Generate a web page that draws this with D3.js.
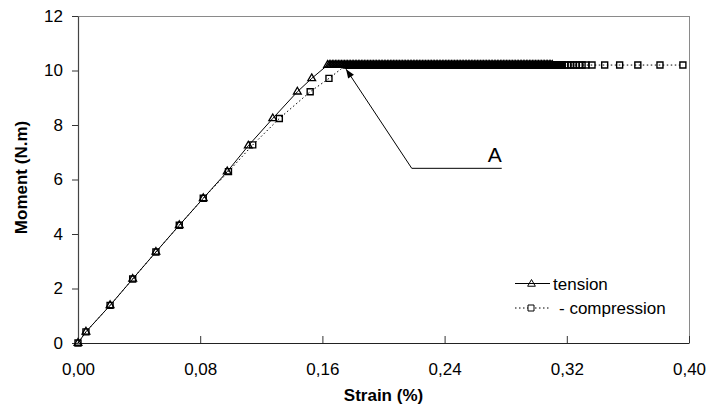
<!DOCTYPE html>
<html><head><meta charset="utf-8">
<script src="https://cdn.jsdelivr.net/npm/d3@7/dist/d3.min.js"></script>
<style>
body{margin:0;background:#fff}
svg{display:block}
text{font-family:"Liberation Sans",Arial,Helvetica,sans-serif;fill:#000}
</style>
</head><body>
<svg id="chart" width="708" height="410"></svg>
<script>
// ---- data ----
const xTicks = [0, 0.08, 0.16, 0.24, 0.32, 0.40];
const yTicks = [0, 2, 4, 6, 8, 10, 12];

const tensionStrain = [0, 0.0052, 0.021, 0.0358, 0.051, 0.0663, 0.082, 0.0977, 0.1115, 0.1275, 0.1436, 0.153, 0.1634];
const tensionMoment = [0, 0.41, 1.38, 2.35, 3.34, 4.32, 5.31, 6.29, 7.24, 8.24, 9.22, 9.71, 10.2];
const tensionPlateauStrain = [
0.1645,0.1655,0.1665,0.1675,0.1685,0.1695,
0.1705,0.1715,0.1725,0.1735,0.1745,0.1755,0.1765,0.1775,0.1785,0.1795,
0.1805,0.1815,0.1825,0.1835,0.1845,0.1855,0.1865,0.1875,0.1885,0.1895,
0.1905,0.1915,0.1925,0.1935,0.1945,0.1955,0.1965,0.1975,0.1985,0.1995,
0.2005,0.2015,0.2025,0.2035,0.2045,0.2055,0.2065,0.2075,0.2085,0.2095,
0.2105,0.2115,0.2125,0.2135,0.2145,0.2155,0.2165,0.2175,0.2185,0.2195,
0.2205,0.2215,0.2225,0.2235,0.2245,0.2255,0.2265,0.2275,0.2285,0.2295,
0.2305,0.2315,0.2325,0.2335,0.2345,0.2355,0.2365,0.2375,0.2385,0.2395,
0.2405,0.2415,0.2425,0.2435,0.2445,0.2455,0.2465,0.2475,0.2485,0.2495,
0.2505,0.2515,0.2525,0.2535,0.2545,0.2555,0.2565,0.2575,0.2585,0.2595,
0.2605,0.2615,0.2625,0.2635,0.2645,0.2655,0.2665,0.2675,0.2685,0.2695,
0.2705,0.2715,0.2725,0.2735,0.2745,0.2755,0.2765,0.2775,0.2785,0.2795,
0.2805,0.2815,0.2825,0.2835,0.2845,0.2855,0.2865,0.2875,0.2885,0.2895,
0.2905,0.2915,0.2925,0.2935,0.2945,0.2955,0.2965,0.2975,0.2985,0.2995,
0.3005,0.3015,0.3025,0.3035,0.3045,0.3055,0.3065,0.3075,0.3085,0.3095,0.3105];
const tensionPlateauMoment = 10.2;

const compressionStrain = [0, 0.0052, 0.021, 0.0358, 0.051, 0.0663, 0.082, 0.0985, 0.1144, 0.1318, 0.152, 0.1643, 0.1755];
const compressionMoment = [0, 0.41, 1.38, 2.35, 3.34, 4.32, 5.31, 6.29, 7.27, 8.24, 9.22, 9.71, 10.2];
const compressionPlateauStrain = [
0.1770,0.1775,0.1780,0.1785,0.1790,0.1795,
0.1800,0.1805,0.1810,0.1815,0.1820,0.1825,0.1830,0.1835,0.1840,0.1845,0.1850,0.1855,0.1860,0.1865,0.1870,0.1875,0.1880,0.1885,0.1890,0.1895,
0.1900,0.1905,0.1910,0.1915,0.1920,0.1925,0.1930,0.1935,0.1940,0.1945,0.1950,0.1955,0.1960,0.1965,0.1970,0.1975,0.1980,0.1985,0.1990,0.1995,
0.2000,0.2005,0.2010,0.2015,0.2020,0.2025,0.2030,0.2035,0.2040,0.2045,0.2050,0.2055,0.2060,0.2065,0.2070,0.2075,0.2080,0.2085,0.2090,0.2095,
0.2100,0.2105,0.2110,0.2115,0.2120,0.2125,0.2130,0.2135,0.2140,0.2145,0.2150,0.2155,0.2160,0.2165,0.2170,0.2175,0.2180,0.2185,0.2190,0.2195,
0.2200,0.2205,0.2210,0.2215,0.2220,0.2225,0.2230,0.2235,0.2240,0.2245,0.2250,0.2255,0.2260,0.2265,0.2270,0.2275,0.2280,0.2285,0.2290,0.2295,
0.2300,0.2305,0.2310,0.2315,0.2320,0.2325,0.2330,0.2335,0.2340,0.2345,0.2350,0.2355,0.2360,0.2365,0.2370,0.2375,0.2380,0.2385,0.2390,0.2395,
0.2400,0.2405,0.2410,0.2415,0.2420,0.2425,0.2430,0.2435,0.2440,0.2445,0.2450,0.2455,0.2460,0.2465,0.2470,0.2475,0.2480,0.2485,0.2490,0.2495,
0.2500,0.2505,0.2510,0.2515,0.2520,0.2525,0.2530,0.2535,0.2540,0.2545,0.2550,0.2555,0.2560,0.2565,0.2570,0.2575,0.2580,0.2585,0.2590,0.2595,
0.2600,0.2605,0.2610,0.2615,0.2620,0.2625,0.2630,0.2635,0.2640,0.2645,0.2650,0.2655,0.2660,0.2665,0.2670,0.2675,0.2680,0.2685,0.2690,0.2695,
0.2700,0.2705,0.2710,0.2715,0.2720,0.2725,0.2730,0.2735,0.2740,0.2745,0.2750,0.2755,0.2760,0.2765,0.2770,0.2775,0.2780,0.2785,0.2790,0.2795,
0.2800,0.2805,0.2810,0.2815,0.2820,0.2825,0.2830,0.2835,0.2840,0.2845,0.2850,0.2855,0.2860,0.2865,0.2870,0.2875,0.2880,0.2885,0.2890,0.2895,
0.2900,0.2905,0.2910,0.2915,0.2920,0.2925,0.2930,0.2935,0.2940,0.2945,0.2950,0.2955,0.2960,0.2965,0.2970,0.2975,0.2980,0.2985,0.2990,0.2995,
0.3000,0.3005,0.3010,0.3015,0.3020,0.3025,0.3030,0.3035,0.3040,0.3045,0.3050,0.3055,0.3060,0.3065,0.3070,0.3075,0.3080,0.3085,0.3090,0.3095,
0.3100,0.3105,0.3110,0.3115,0.3120,0.3125,0.3130,0.3135,0.3140,0.3145,0.3150,0.3155,0.3160,0.3165,0.3170,
0.3189,0.3208,0.3226,0.3244,0.3262,0.3281,0.3300,0.3325,0.3365,0.3448,0.3546,0.3665,0.3810,0.3960];
const compressionPlateauMoment = 10.2;

const seriesNames = ["tension", "- compression"];
const annotationLabel = "A";
const annotationTip = [0.1755, 10.05];
const annotationElbow = [0.2185, 6.41];
const annotationEnd = [0.2774, 6.41];

// ---- build series ----
const tension = tensionStrain.map((s,i)=>[s, tensionMoment[i]])
  .concat(tensionPlateauStrain.map(s=>[s, tensionPlateauMoment]));
const compression = compressionStrain.map((s,i)=>[s, compressionMoment[i]])
  .concat(compressionPlateauStrain.map(s=>[s, compressionPlateauMoment]));

const svg = d3.select("#chart");
const L = 78, R = 689, T = 16, B = 343;
const x = d3.scaleLinear().domain([0, 0.4]).range([L, R]);
const y = d3.scaleLinear().domain([0, 12]).range([B, T]);
const fmt = v => d3.format(".2f")(v).replace(".", ",");

// frame (top + right)
svg.append("line").attr("x1",L).attr("x2",R).attr("y1",T+0.5).attr("y2",T+0.5).attr("stroke","#8a8a8a").attr("stroke-width",1);
svg.append("line").attr("x1",R+0.5).attr("x2",R+0.5).attr("y1",T).attr("y2",B).attr("stroke","#8a8a8a").attr("stroke-width",1);

// x axis
const gx = svg.append("g").attr("transform",`translate(0,${B})`)
  .call(d3.axisBottom(x).tickValues(xTicks).tickFormat(fmt).tickSizeInner(-7).tickSizeOuter(0).tickPadding(20));
gx.select(".domain").attr("stroke","#222").attr("stroke-width",1.2);
gx.selectAll(".tick line").attr("stroke","#333");
gx.selectAll("text").attr("font-size",17).attr("font-family","Liberation Sans, Arial, sans-serif").attr("fill","#111");

// y axis
const gy = svg.append("g").attr("transform",`translate(${L},0)`)
  .call(d3.axisLeft(y).tickValues(yTicks).tickFormat(d3.format("d")).tickSizeInner(6).tickSizeOuter(0).tickPadding(9));
gy.select(".domain").attr("stroke","#444").attr("stroke-width",1.2);
gy.selectAll(".tick line").attr("stroke","#333");
gy.selectAll("text").attr("font-size",17).attr("font-family","Liberation Sans, Arial, sans-serif").attr("fill","#111");

// titles
svg.append("text").attr("x",(L+R)/2).attr("y",401).attr("text-anchor","middle")
  .attr("font-size",17).attr("font-weight","bold").text("Strain (%)");
svg.append("text").attr("transform",`translate(27,${(T+B)/2-2}) rotate(-90)`).attr("text-anchor","middle")
  .attr("font-size",17).attr("font-weight","bold").text("Moment (N.m)");

// lines
const line = d3.line().x(d=>x(d[0])).y(d=>y(d[1]));
svg.append("path").datum(compression).attr("d",line).attr("fill","none").attr("stroke","#000").attr("stroke-width",1).attr("stroke-dasharray","1.5,2.5");
svg.append("path").datum(tension).attr("d",line).attr("fill","none").attr("stroke","#000").attr("stroke-width",1);

// markers
const tri = d3.symbol().type(d3.symbolTriangle).size(26);
const sq = d3.symbol().type(d3.symbolSquare).size(36);
svg.append("g").selectAll("path").data(compression).join("path")
  .attr("d",sq).attr("transform",d=>`translate(${x(d[0])},${y(d[1])})`)
  .attr("fill","none").attr("stroke","#000").attr("stroke-width",1.4);
svg.append("g").selectAll("path").data(tension).join("path")
  .attr("d",tri).attr("transform",d=>`translate(${x(d[0])},${y(d[1])})`)
  .attr("fill","none").attr("stroke","#000").attr("stroke-width",1.3);

// annotation A
const tip = [x(annotationTip[0]), y(annotationTip[1])];
const elb = [x(annotationElbow[0]), y(annotationElbow[1])];
const end = [x(annotationEnd[0]), y(annotationEnd[1])];
svg.append("path").attr("d",`M${end[0]},${end[1]}L${elb[0]},${elb[1]}L${tip[0]},${tip[1]}`)
  .attr("fill","none").attr("stroke","#000").attr("stroke-width",1);
const ang = Math.atan2(tip[1]-elb[1], tip[0]-elb[0]);
const ah = 9, aw = 3.5;
const bx = tip[0]-ah*Math.cos(ang), by = tip[1]-ah*Math.sin(ang);
svg.append("path").attr("d",`M${tip[0]},${tip[1]}L${bx+aw*Math.sin(ang)},${by-aw*Math.cos(ang)}L${bx-aw*Math.sin(ang)},${by+aw*Math.cos(ang)}Z`)
  .attr("fill","#000");
svg.append("text").attr("x",end[0]-7).attr("y",end[1]-6).attr("text-anchor","middle")
  .attr("font-size",21).text(annotationLabel);

// legend
const lg = svg.append("g");
lg.append("line").attr("x1",515).attr("x2",550).attr("y1",283.5).attr("y2",283.5).attr("stroke","#000").attr("stroke-width",1);
lg.append("path").attr("d",tri).attr("transform","translate(531.5,284)").attr("fill","none").attr("stroke","#000").attr("stroke-width",1);
lg.append("text").attr("x",553).attr("y",289.5).attr("font-size",17).text(seriesNames[0]);
lg.append("line").attr("x1",515).attr("x2",550).attr("y1",308).attr("y2",308).attr("stroke","#000").attr("stroke-width",1).attr("stroke-dasharray","1.5,2.5");
lg.append("path").attr("d",sq).attr("transform","translate(531,308)").attr("fill","#fff").attr("stroke","#000").attr("stroke-width",1);
lg.append("text").attr("x",559).attr("y",314).attr("font-size",17).text(seriesNames[1]);
</script>
</body></html>
